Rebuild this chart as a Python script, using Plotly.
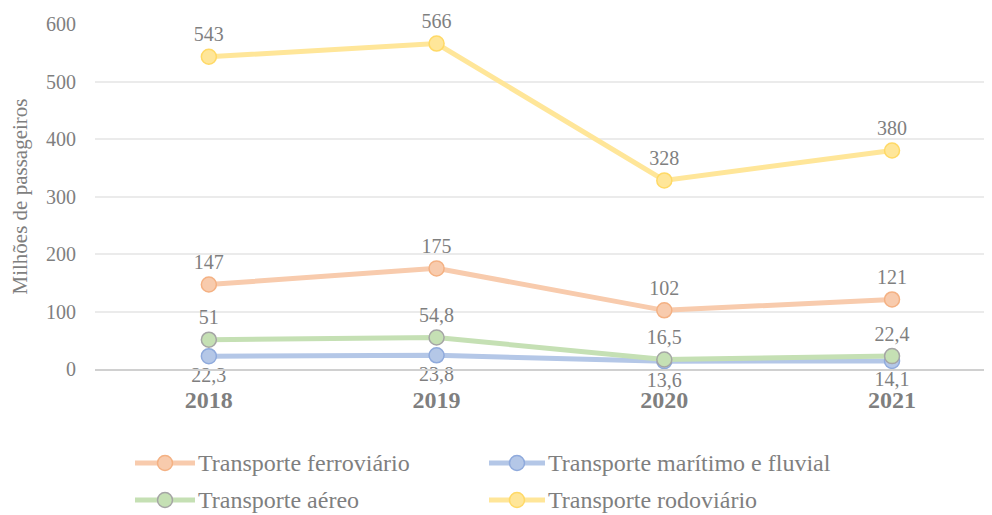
import plotly.graph_objects as go

years = ["2018", "2019", "2020", "2021"]
ferroviario = [147, 175, 102, 121]
maritimo = [22.3, 23.8, 13.6, 14.1]
aereo = [51, 54.8, 16.5, 22.4]
rodoviario = [543, 566, 328, 380]

names = ["Transporte ferroviário", "Transporte marítimo e fluvial",
         "Transporte aéreo", "Transporte rodoviário"]
series = [ferroviario, maritimo, aereo, rodoviario]
line_colors = ["#F8CBAD", "#B4C7E7", "#C5E0B4", "#FFE699"]
edge_colors = ["#F4B183", "#8FAADC", "#A5A5A5", "#FFD966"]
text_pos = ["top center", "bottom center", "top center", "top center"]

OFF = 8  # page body margin
W, H = 992, 515
L, T = 95 - OFF, 24 - OFF
PLOT_RIGHT = 992 - OFF
PLOT_BOTTOM = 369 - OFF
R, B = W - PLOT_RIGHT, H - PLOT_BOTTOM
PW, PH = W - L - R, H - T - B

def fmt(v):
    s = f"{v:g}"
    return s.replace(".", ",")

FONT = "Liberation Serif"
GRAY = "#7F7F7F"

fig = go.Figure()
xs = list(range(len(years)))
for name, vals, lc, ec, tp in zip(names, series, line_colors, edge_colors, text_pos):
    fig.add_trace(go.Scatter(
        x=xs, y=vals, name=name, mode="lines+markers+text",
        line=dict(color=lc, width=5),
        marker=dict(size=15, color=lc, line=dict(color=ec, width=1.5)),
        text=[fmt(v) for v in vals], textposition=tp,
        textfont=dict(family=FONT, size=20, color=GRAY),
        showlegend=False, cliponaxis=False,
    ))

def px2x(px):
    return (px - OFF - L) / PW

def px2y(py):
    return (PLOT_BOTTOM - (py - OFF)) / PH

shapes = []
annotations = []
legend_items = [
    (0, 135, 195, 463), (1, 489, 545, 463),
    (2, 135, 195, 500), (3, 489, 545, 500),
]
for i, x0, x1, y in legend_items:
    shapes.append(dict(type="line", xref="paper", yref="paper",
                       x0=px2x(x0), x1=px2x(x1), y0=px2y(y), y1=px2y(y),
                       line=dict(color=line_colors[i], width=5)))
    cx = (x0 + x1) / 2
    r = 7.5
    shapes.append(dict(type="circle", xref="paper", yref="paper",
                       x0=px2x(cx - r), x1=px2x(cx + r),
                       y0=px2y(y + r), y1=px2y(y - r),
                       fillcolor=line_colors[i],
                       line=dict(color=edge_colors[i], width=1.5)))
    annotations.append(dict(xref="paper", yref="paper", x=px2x(x1 + 1), y=px2y(y),
                            xanchor="left", yanchor="middle", showarrow=False,
                            text=names[i],
                            font=dict(family=FONT, size=24, color=GRAY)))

fig.update_layout(
    template="none",
    width=W, height=H,
    margin=dict(l=L, r=R, t=T, b=B, autoexpand=False),
    plot_bgcolor="white", paper_bgcolor="white",
    font=dict(family=FONT, size=20, color=GRAY),
    shapes=shapes, annotations=annotations,
    xaxis=dict(
        tickmode="array", tickvals=xs, ticktext=["<b>%s</b>" % y for y in years],
        range=[-0.5, 3.439], showgrid=False, zeroline=False,
        showline=True, linecolor="#D0D0D0", linewidth=1.5,
        tickfont=dict(family=FONT, size=24, color=GRAY),
        ticks="", ticklabelstandoff=8,
    ),
    yaxis=dict(
        range=[0, 600], tickvals=[0, 100, 200, 300, 400, 500, 600],
        showgrid=True, gridcolor="#EBEBEB", gridwidth=1.5,
        zeroline=False, showline=False,
        tickfont=dict(family=FONT, size=20, color=GRAY),
        ticks="", ticklabelstandoff=18,
        title=dict(text="Milhões de passageiros",
                   font=dict(family=FONT, size=21, color=GRAY), standoff=12),
        automargin=False,
    ),
)

fig.write_html("out.html")
